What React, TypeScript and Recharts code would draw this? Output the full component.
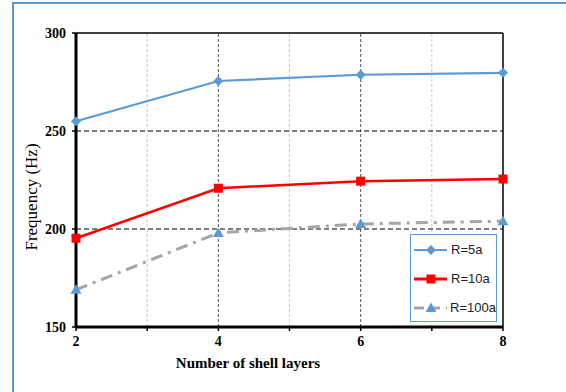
import {
  Line,
  LineChart,
  ReferenceLine,
  XAxis,
  YAxis,
} from "recharts";

const layers = [2, 4, 6, 8];
const r5a = [255, 275.5, 278.7, 279.7];
const r10a = [195.3, 220.8, 224.4, 225.5];
const r100a = [169, 198, 202.6, 204];

const xTicks = [2, 3, 4, 5, 6, 7, 8];
const yTicks = [150, 200, 250, 300];

const data = layers.map((n, i) => ({
  n,
  r5a: r5a[i],
  r10a: r10a[i],
  r100a: r100a[i],
}));

const BLUE = "#5b9bd5";
const RED = "#ff0000";
const GREY = "#a6a6a6";
const SERIF = "'Liberation Serif', 'Times New Roman', serif";
const SANS = "'Liberation Sans', Arial, sans-serif";

function Diamond({ cx, cy }: any) {
  if (cx == null || cy == null) return null;
  return <path d={`M${cx},${cy - 5}L${cx + 5},${cy}L${cx},${cy + 5}L${cx - 5},${cy}Z`} fill={BLUE} />;
}

function Square({ cx, cy }: any) {
  if (cx == null || cy == null) return null;
  return <rect x={cx - 4.5} y={cy - 4.5} width={9} height={9} fill={RED} />;
}

function Triangle({ cx, cy }: any) {
  if (cx == null || cy == null) return null;
  return <path d={`M${cx},${cy - 5.5}L${cx + 5.5},${cy + 4}L${cx - 5.5},${cy + 4}Z`} fill={BLUE} />;
}

const legendRows = [
  { name: "R=5a", color: BLUE, width: 2, dash: undefined, Marker: Diamond },
  { name: "R=10a", color: RED, width: 3, dash: undefined, Marker: Square },
  { name: "R=100a", color: GREY, width: 3, dash: "10 6", Marker: Triangle },
];

function LegendBox() {
  return (
    <div
      style={{
        position: "absolute",
        left: 410,
        top: 234,
        width: 87,
        height: 88,
        border: `1.5px solid ${BLUE}`,
        background: "#fff",
        boxSizing: "border-box",
      }}
    >
      {legendRows.map(({ name, color, width, dash, Marker }) => (
        <div key={name} style={{ display: "flex", alignItems: "center", height: 29 }}>
          <svg width={36} height={14} style={{ marginLeft: 2 }}>
            <line x1={1} y1={7} x2={34} y2={7} stroke={color} strokeWidth={width} strokeDasharray={dash} />
            <Marker cx={18} cy={7} />
          </svg>
          <span style={{ fontFamily: SANS, fontSize: 13, color: "#222", marginLeft: 2 }}>{name}</span>
        </div>
      ))}
    </div>
  );
}

export default function App() {
  return (
    <div style={{ position: "absolute", left: 0, top: 0, width: 566, height: 392, background: "#fff", overflow: "hidden" }}>
      <div
        style={{
          position: "absolute",
          left: 12,
          top: 2,
          width: 600,
          height: 450,
          border: `2px solid ${BLUE}`,
        }}
      />
      <div style={{ position: "absolute", left: 0, top: 0 }}>
        <LineChart width={566} height={392} data={data} margin={{ top: 33, right: 63, bottom: 35, left: 16 }}>
          {[3, 5, 7].map((x) => (
            <ReferenceLine key={x} x={x} stroke="#c8c8c8" strokeDasharray="3 2" />
          ))}
          {[4, 6].map((x) => (
            <ReferenceLine key={x} x={x} stroke="#555" strokeDasharray="3 2" />
          ))}
          {[200, 250].map((y) => (
            <ReferenceLine key={y} y={y} stroke="#000" strokeDasharray="5 3" />
          ))}
          <ReferenceLine y={300} stroke="#000" strokeWidth={1.5} />
          <ReferenceLine x={8} stroke="#000" strokeWidth={1.5} />
          <XAxis
            dataKey="n"
            type="number"
            domain={[2, 8]}
            ticks={xTicks}
            interval={0}
            tickFormatter={(v) => (v % 2 === 0 ? String(v) : "")}
            height={30}
            axisLine={{ stroke: "#000", strokeWidth: 3 }}
            tickLine={{ stroke: "#000", strokeWidth: 1.5 }}
            tickSize={4}
            tick={{ fill: "#000", fontFamily: SERIF, fontSize: 14, fontWeight: "bold", dy: 3 }}
            label={{
              content: () => (
                <text x={248} y={368} textAnchor="middle" fontFamily={SERIF} fontSize={15} fontWeight="bold" fill="#000">
                  Number of shell layers
                </text>
              ),
            }}
          />
          <YAxis
            type="number"
            domain={[150, 300]}
            ticks={yTicks}
            interval={0}
            width={60}
            axisLine={{ stroke: "#000", strokeWidth: 3 }}
            tickLine={{ stroke: "#000", strokeWidth: 1.5 }}
            tickSize={4}
            tick={{ fill: "#000", fontFamily: SERIF, fontSize: 14, fontWeight: "bold", dx: -4 }}
            label={{
              content: () => (
                <text
                  x={37}
                  y={197}
                  transform="rotate(-90 37 197)"
                  textAnchor="middle"
                  fontFamily={SERIF}
                  fontSize={17}
                  fill="#000"
                >
                  Frequency  (Hz)
                </text>
              ),
            }}
          />
          <Line
            dataKey="r100a"
            stroke={GREY}
            strokeWidth={3}
            strokeDasharray="12 6 3 6"
            dot={(p: any) => <Triangle key={p.index} cx={p.cx} cy={p.cy} />}
            isAnimationActive={false}
          />
          <Line
            dataKey="r10a"
            stroke={RED}
            strokeWidth={2.5}
            dot={(p: any) => <Square key={p.index} cx={p.cx} cy={p.cy} />}
            isAnimationActive={false}
          />
          <Line
            dataKey="r5a"
            stroke={BLUE}
            strokeWidth={2.2}
            dot={(p: any) => <Diamond key={p.index} cx={p.cx} cy={p.cy} />}
            isAnimationActive={false}
          />
        </LineChart>
      </div>
      <LegendBox />
    </div>
  );
}
